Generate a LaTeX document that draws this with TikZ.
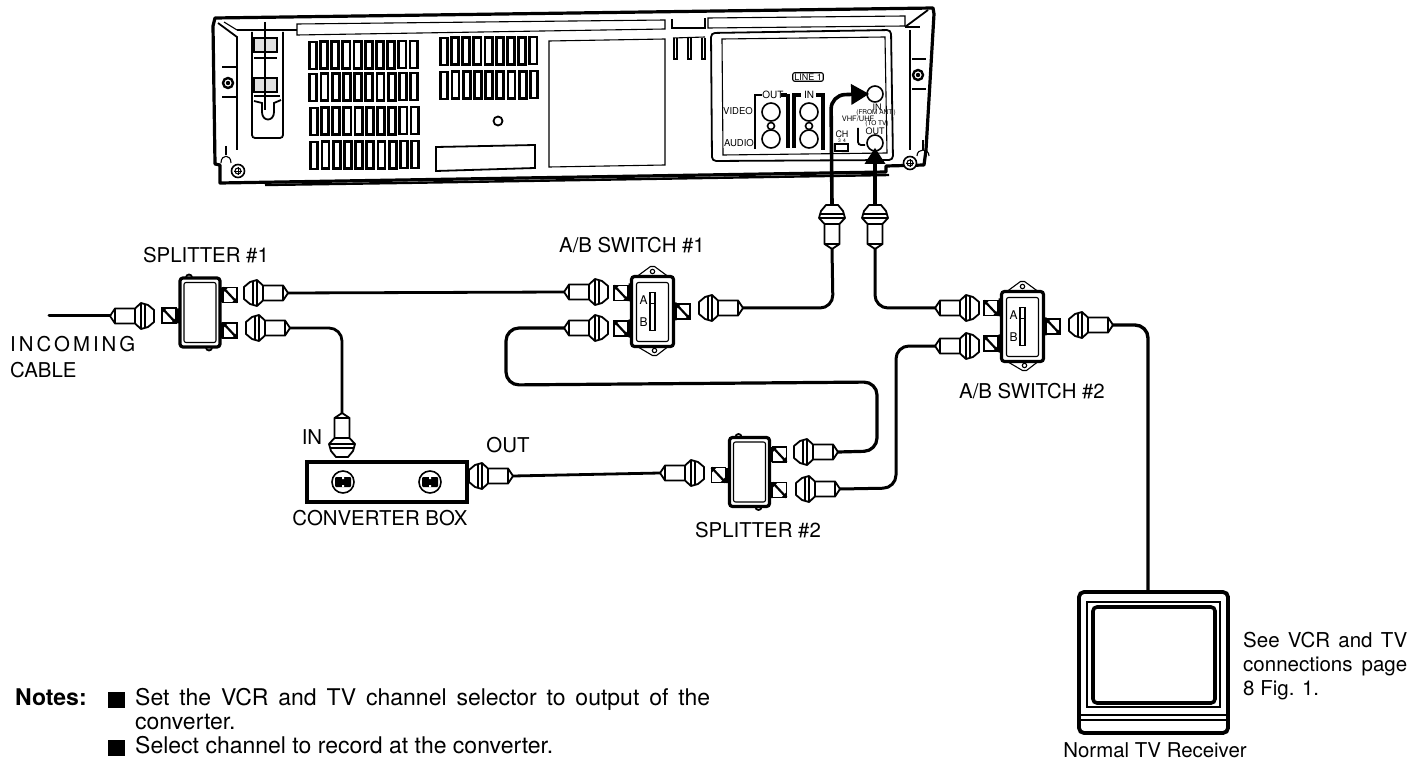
\documentclass[tikz,border=0pt]{standalone}
\usepackage{fontspec}
\setmainfont{TeX Gyre Heros}
\usetikzlibrary{arrows.meta}
\tikzset{
 x=1pt,y=-1pt,
 cable/.style={line width=2.8pt,line cap=round,line join=round,rounded corners=13pt},
 thin line/.style={line width=1.1pt},
 mid line/.style={line width=1.8pt},
 heavy/.style={line width=3.2pt},
 lab/.style={inner sep=0pt,font=\fontsize{20.4}{20.4}\selectfont},
 txt/.style={inner sep=0pt,anchor=base west,font=\fontsize{20.5}{20.5}\selectfont},
 notetxt/.style={inner sep=0pt,anchor=base west,font=\fontsize{23}{23}\selectfont},
 tiny/.style={inner sep=0pt,font=\fontsize{9}{9}\selectfont},
 tinier/.style={inner sep=0pt,font=\fontsize{6.5}{6.5}\selectfont},
 jack/.style={circle,draw,line width=1.6pt,fill=white,inner sep=0pt,minimum size=#1},
 plug/.pic={
  \draw[mid line,fill=white,line join=round] (0,0)--(5,-7.5)--(25,-7.5)--(31,-13)--(38,-11)--(44,-6)--(44,6)--(38,11)--(31,13)--(25,7.5)--(5,7.5)--cycle;
  \draw[thin line] (5,-7.5)--(5,7.5);
  \draw[line width=1.2pt] (25,-7.5)--(25,7.5) (31,-13)--(31,13) (35,-12)--(35,12);
  \coordinate (-tip) at (0,0);
  \coordinate (-nut) at (44,0);
 },
 stub/.pic={
  \draw[mid line,fill=white] (0,-7.5) rectangle (14,7.5);
  \fill (0,-7.5)--(5,-7.5)--(0,-2)--cycle (14,7.5)--(9,7.5)--(14,2)--cycle;
  \draw[line width=2.2pt] (0,-7.5)--(14,7.5);
 },
 splitter/.pic={
  \draw[mid line,fill=white] (-11,-35) circle (3) (9,35) circle (3);
  \path[fill=white,draw,heavy,rounded corners=3pt] (-20,-34.5) rectangle (20,34.5);
  \draw[thin line,rounded corners=2pt] (-16,-30) rectangle (16,30);
  \pic at (-38,3) {stub};
  \pic at (23,-17.5) {stub};
  \pic at (23,18) {stub};
  \fill (-24,-4) rectangle (-20,11) (20,-25) rectangle (23,-10) (20,10) rectangle (23,26);
 },
 abswitch/.pic={
  \draw[thin line,fill=white,line join=round] (-17,-34)--(-2,-45)--(2,-45)--(17,-34)--(17,34)--(4,44)--(0,44)--(-17,34)--cycle;
  \draw[thin line] (0,-40) circle (2.2) (2,39) circle (2.2);
  \path[fill=white,draw,heavy,rounded corners=3pt] (-21,-35) rectangle (21,35);
  \draw[thin line,rounded corners=2pt] (-16,-29) rectangle (16,30);
  \draw[line width=1.2pt] (-2.5,-19) rectangle (2.5,19) (-2.5,-8)--(2.5,-8);
  \node[inner sep=0pt,font=\fontsize{12}{12}\selectfont] (-a) at (-9,-11) {A};
  \node[inner sep=0pt,font=\fontsize{12}{12}\selectfont] (-b) at (-9,11) {B};
  \pic at (-38.5,-18.5) {stub};
  \pic at (-38.5,17) {stub};
  \pic at (23.5,0) {stub};
  \fill (-24,-28) rectangle (-21,-10) (-24,8) rectangle (-21,26) (21,-9) rectangle (24,9);
 }
}
\begin{document}
\begin{tikzpicture}
\useasboundingbox (0,0) rectangle (1419,759);
\fill[white] (0,0) rectangle (1419,759);

% ---------- VCR ----------
\draw[heavy,line join=round] (213,26)--(215,18)--(933,8)--(934,14)--(926,150)--(924,165)--(886,166)--(886,172)--(220,183)--(220,165)--(215,164)--cycle;
\draw[line width=2.4pt] (265,185)--(400,183)--(889,175);
\draw[mid line] (237,30)--(297,30);
\draw[mid line] (218,23)--(237,37)--(237,150);
\draw[thin line] (224,22)--(237,30);
\draw[thin line] (297,24)--(665,20)--(665,29)--(297,35)--cycle;
\draw[thin line] (672,19)--(672,28)--(705,28)--(705,18);
\draw[thin line] (708,18)--(905,16)--(905,26)--(708,28)--cycle;
\draw[mid line] (905,27)--(928,10);
\draw[mid line] (910,30)--(910,150);
\draw[thin line] (905,27)--(920,27);
\draw[thin line] (673,38)--(705,37);
\foreach \p in {674,688,702}{\draw[mid line] (\p,38)--(\p,59)--(\p+3,59)--(\p+3,38);}
% left module
\draw[mid line,rounded corners=3pt] (252,32)--(252,138)--(283,138)--(283,32);
\fill[black!12] (255,38) rectangle (277,52) (255,78) rectangle (277,92);
\draw[mid line] (254,38) rectangle (277,52) (254,78) rectangle (277,92);
\draw[thin line] (254,58)--(277,58) (254,96)--(280,96);
\draw[mid line] (254,101)--(262,103)--(262,112) .. controls (262,122) and (274,122) .. (274,112)--(274,103)--(281,100);
\draw[thin line] (265,22)--(265,110);
% screws
\foreach \cx/\cy in {228/83,918/75}{
 \draw[thin line] (\cx-6,\cy-16)--(\cx+8,\cy-16) (\cx-6,\cy+14)--(\cx+8,\cy+14);
 \draw[line width=2.4pt,fill=white] (\cx,\cy) circle (5);
 \fill (\cx,\cy) circle (2.2);
}
\foreach \cx/\cy in {238/171,910/163}{
 \draw[line width=1.6pt,fill=white] (\cx,\cy) circle (6.5);
 \draw[thin line] (\cx,\cy) circle (3);
 \draw[line width=.6pt] (\cx-4,\cy)--(\cx+4,\cy) (\cx,\cy-4)--(\cx,\cy+4);
}
\draw[thin line] (226,146)--(226,155);
\draw[thin line] (221,163) .. controls (221,154) and (231,154) .. (231,163);
\draw[thin line] (923,140)--(923,150);
\draw[thin line] (917,156) .. controls (917,148) and (929,148) .. (929,156);
% vents
\foreach \x/\y/\n in {308/42/9,308.5/74/9,309/108/9,309.5/142/9}{
 \foreach \k in {0,...,\n}{
  \pgfmathsetmacro\sx{\x+11.2*\k}
  \pgfmathsetmacro\sy{\y-0.12*\k}
  \draw[line width=2.8pt] (\sx+1.2,\sy) rectangle (\sx+8.3,\sy+27);
 }
}
\foreach \x/\y/\n in {439/38/8,439.5/72/8}{
 \foreach \k in {0,...,\n}{
  \pgfmathsetmacro\sx{\x+11.2*\k}
  \pgfmathsetmacro\sy{\y-0.12*\k}
  \draw[line width=2.8pt] (\sx+1.2,\sy) rectangle (\sx+8.3,\sy+27);
 }
}
\draw[line width=1.8pt] (498,121) circle (4.5);
\draw[line width=1.8pt] (436,147)--(535,145)--(535,168)--(436,171)--cycle;
\draw[thin line] (549,41)--(665,39)--(665,165)--(549,167)--cycle;
% rear panel
\draw[mid line,rounded corners=4pt] (711,33)--(891,30)--(893,160)--(712,161)--cycle;
\draw[thin line] (722,39)--(885,37)--(887,153)--(723,155)--cycle;
\node[tiny,draw,thin line,rounded corners=2pt,inner xsep=1.5pt,inner ysep=1pt] (line1) at (808,77) {LINE 1};
\draw[mid line] (762,95)--(755,95)--(755,149);
\draw[heavy] (787,95)--(781,95) (788,94)--(788,148);
\draw[heavy] (801,95)--(794,95)--(794,148);
\draw[heavy] (816,95)--(823,95)--(823,150);
\node[tiny,font=\fontsize{10}{10}\selectfont] (tout) at (773,95) {OUT};
\node[tiny,font=\fontsize{10}{10}\selectfont] (tin) at (809,95) {IN};
\node[tiny,font=\fontsize{9.5}{9.5}\selectfont,anchor=east] (tvideo) at (753,111) {VIDEO};
\node[tiny,font=\fontsize{9.5}{9.5}\selectfont,anchor=east] (taudio) at (754,143) {AUDIO};
\foreach \cx/\nm in {771/a,809/b}{
 \node[jack=7pt] (small\nm) at (\cx,126) {};
 \node[jack=18pt] (video\nm) at (\cx,112) {};
 \node[jack=18pt] (audio\nm) at (\cx,139) {};
}
\node[jack=16pt] (antin) at (875,94) {};
\node[jack=16pt] (antout) at (875,143) {};
\node[tiny] (tin2) at (877,107) {IN};
\node[tinier] (tfrom) at (876,113) {(FROM ANT.)};
\node[tiny,font=\fontsize{7.5}{7.5}\selectfont] (tvhf) at (858,119) {VHF/UHF};
\node[tinier] (ttotv) at (877,124) {(TO TV)};
\node[tiny] (tout2) at (875,131) {OUT};
\node[tiny] (tch) at (842,134) {CH};
\node[tinier,font=\fontsize{5}{5}\selectfont] (t34) at (842,141) {3 \,4};
\draw[thin line] (835,144) rectangle (848,151);
\draw[mid line,rounded corners=3pt] (858,128)--(858,145)--(865,145);

% ---------- plugs ----------
\pic (pin) at (110,316) {plug};
\pic[rotate=180] (ps1a) at (288,293) {plug};
\pic[rotate=180] (ps1b) at (290,328) {plug};
\pic (pa1a) at (564,292) {plug};
\pic (pa1b) at (564,328) {plug};
\pic[rotate=180] (pa1o) at (743,308) {plug};
\pic[rotate=90] (pv1) at (832,249) {plug};
\pic[rotate=90] (pv2) at (875,249) {plug};
\pic (pa2a) at (935,308) {plug};
\pic (pa2b) at (935,346) {plug};
\pic[rotate=180] (pa2o) at (1113,325) {plug};
\pic[rotate=-90] (pcin) at (342,413) {plug};
\pic[rotate=180] (pcout) at (513,476) {plug};
\pic (ps2in) at (660,473) {plug};
\pic[rotate=180] (ps2a) at (838,452) {plug};
\pic[rotate=180] (ps2b) at (840,489) {plug};

% ---------- devices ----------
\pic (s1) at (200,312.5) {splitter};
\pic (s2) at (749.5,472) {splitter};
\pic (ab1) at (652.5,311.5) {abswitch};
\pic (ab2) at (1022.5,326.5) {abswitch};

% converter
\node[draw,line width=3.4pt,fill=white,minimum width=160pt,minimum height=40pt,inner sep=0pt] (conv) at (387,482) {};
\foreach \cx/\nm in {343/l,430/r}{
 \draw[line width=1.6pt] (\cx,482) circle (11);
 \fill[rounded corners=1pt] (\cx-8,477) rectangle (\cx+8,487);
 \fill[white] (\cx-1,477) rectangle (\cx+1,479) (\cx-1,485) rectangle (\cx+1,487);
}

% TV
\node[draw,line width=3.8pt,rounded corners=5pt,minimum width=149pt,minimum height=141pt,inner sep=0pt] (tv) at (1153.5,662.5) {};
\draw[thin line] (1087,602) rectangle (1220,707);
\draw[line width=3.6pt,rounded corners=4pt] (1093,607) rectangle (1215,703);
\draw[thin line] (1081,715)--(1226,715);
\draw[mid line] (1081,720)--(1226,720);

% ---------- cables ----------
\coordinate (cablefree) at (49,316);
\draw[cable,line width=3pt,rounded corners=0pt] (cablefree)--(pin-tip);
\draw[cable] (ps1a-tip)--(pa1a-tip);
\draw[cable] (ps1b-tip)--(342,328)--(pcin-tip);
\draw[cable] (pcout-tip)--(ps2in-tip);
\draw[cable,line width=3.2pt] (ps2a-tip)--(877,451)--(877,382)--(506,385)--(506,328)--(pa1b-tip);
\draw[cable,line width=3pt] (ps2b-tip)--(896,488)--(896,346)--(pa2b-tip);
\draw[cable,line width=3pt] (pa1o-tip)--(833,308)--(pv1-tip);
\draw[cable,line width=3pt] (pv2-tip)--(875,308)--(pa2a-tip);
\draw[cable,line width=3.4pt] (pa2o-tip)--(1148,325)--(tv.north -| 1148,0);
\draw[line width=3.6pt,rounded corners=14pt,-{Triangle[length=18pt,width=20pt]},shorten >=-3pt] (pv1-nut)--(831,95)--(antin.west);
\draw[line width=3.2pt,-{Triangle[length=16pt,width=20pt]},shorten >=-4pt] (pv2-nut)--(antout.south);

% ---------- labels ----------
\node[lab] (lsp1) at (206,255) {SPLITTER \#1};
\node[lab] (lab1) at (632,245) {A/B SWITCH \#1};
\node[lab] (lab2) at (1032,391) {A/B SWITCH \#2};
\node[lab] (lsp2) at (758,530) {SPLITTER \#2};
\node[lab] (lconv) at (380,518) {CONVERTER BOX};
\node[lab] (lin) at (312,437) {IN};
\node[lab] (lout) at (508,445) {OUT};
\node[lab,anchor=base west] (linc) at (10,352) {\makebox[125pt][s]{I\hfill N\hfill C\hfill O\hfill M\hfill I\hfill N\hfill G}};
\node[lab,anchor=base west] (lcab) at (10,377) {CABLE};
\node[lab] (ltv) at (1155,750) {Normal TV Receiver};
\node[txt] (see1) at (1243,647) {\makebox[164pt][s]{See VCR and TV}};
\node[txt] (see2) at (1243,671) {\makebox[164pt][s]{connections page}};
\node[txt] (see3) at (1243,695) {8 Fig. 1.};
\node[notetxt,font=\fontsize{23}{23}\selectfont\bfseries] (notes) at (15,705) {Notes:};
\node[notetxt] (n1) at (135,705) {\makebox[575pt][s]{Set the VCR and TV channel selector to output of the}};
\node[notetxt] (n2) at (135,729) {converter.};
\node[notetxt] (n3) at (135,753) {Select channel to record at the converter.};
\fill (108,692) rectangle (125,708);
\fill (108,740) rectangle (125,756);
\end{tikzpicture}
\end{document}
